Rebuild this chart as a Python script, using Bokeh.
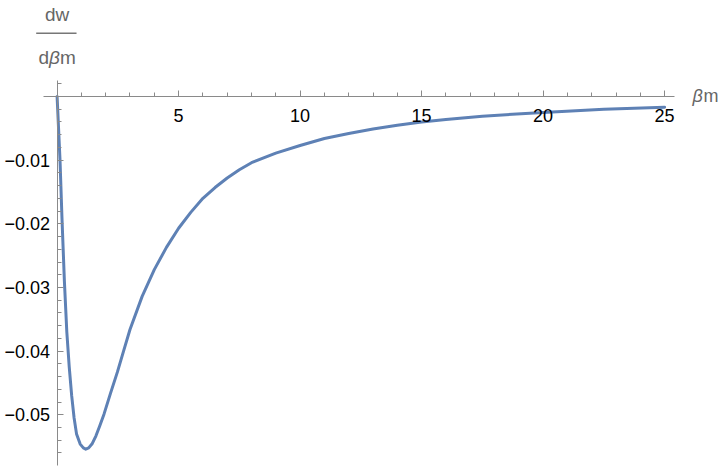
from bokeh.plotting import figure
from bokeh.models import Range1d, FixedTicker, Label, Arrow
from bokeh.embed import file_html
from bokeh.resources import INLINE

# curve values
beta_m = [0.0, 0.06, 0.12, 0.2, 0.3, 0.4, 0.5, 0.6, 0.7, 0.8,
          0.95, 1.08, 1.18, 1.3, 1.45, 1.6, 1.75, 1.93, 2.2, 2.48,
          2.75, 3.0, 3.5, 4.0, 4.5, 5.0, 5.5, 6.0, 6.5, 7.0,
          7.5, 8.0, 9.0, 10.0, 11.0, 12.0, 13.0, 14.0, 15.0, 16.0,
          17.5, 20.0, 22.5, 25.0]
dw = [0.0, -0.005, -0.010, -0.019, -0.029, -0.037, -0.0425, -0.047, -0.0505, -0.053,
      -0.0546, -0.0552, -0.0554, -0.0552, -0.0545, -0.0533, -0.0518, -0.0499, -0.0466, -0.0433,
      -0.0398, -0.0366, -0.0314, -0.0272, -0.0237, -0.0207, -0.0182, -0.0160, -0.0143, -0.0128,
      -0.0115, -0.0104, -0.0089, -0.0077, -0.0066, -0.0058, -0.0051, -0.0045, -0.0040, -0.0036,
      -0.0031, -0.0025, -0.0020, -0.0017]

x_major = [5, 10, 15, 20, 25]
x_minor = [1, 2, 3, 4, 6, 7, 8, 9, 11, 12, 13, 14, 16, 17, 18, 19, 21, 22, 23, 24]
y_major = [-0.05, -0.04, -0.03, -0.02, -0.01]
y_labels = ["\u22120.05", "\u22120.04", "\u22120.03", "\u22120.02", "\u22120.01"]
y_minor = [-0.056, -0.054, -0.052, -0.048, -0.046, -0.044, -0.042, -0.038, -0.036,
           -0.034, -0.032, -0.028, -0.026, -0.024, -0.022, -0.018, -0.016, -0.014,
           -0.012, -0.008, -0.006, -0.004, -0.002, 0.002]

FONT = "Liberation Sans"
AXIS_COLOR = "#8a8a8a"
LABEL_GRAY = "#666666"

p = figure(width=720, height=470, output_backend="svg", toolbar_location=None,
           x_range=Range1d(-2.329, 27.300), y_range=Range1d(-0.05875, 0.01508),
           min_border_left=0, min_border_right=0, min_border_top=0, min_border_bottom=0)
p.outline_line_color = None
p.xgrid.visible = False
p.ygrid.visible = False
p.background_fill_color = "white"
p.border_fill_color = "white"

p.line(beta_m, dw, line_color="#5E81B5", line_width=3, line_join="round", line_cap="round")

for ax in (p.xaxis[0], p.yaxis[0]):
    ax.fixed_location = 0
    ax.axis_line_color = AXIS_COLOR
    ax.major_tick_line_color = AXIS_COLOR
    ax.minor_tick_line_color = AXIS_COLOR
    ax.major_tick_in = 6
    ax.major_tick_out = 0
    ax.minor_tick_in = 4
    ax.minor_tick_out = 0
    ax.major_label_text_font = FONT
    ax.major_label_text_font_size = "18px"
    ax.major_label_text_color = "black"

p.xaxis[0].bounds = (-0.56, 25.41)
p.xaxis[0].ticker = FixedTicker(ticks=x_major, minor_ticks=x_minor)
p.xaxis[0].major_label_standoff = 13
p.yaxis[0].bounds = (-0.05797, 0.00251)
p.yaxis[0].ticker = FixedTicker(ticks=y_major, minor_ticks=y_minor)
p.yaxis[0].major_label_standoff = 7
p.yaxis[0].major_label_overrides = {v: s for v, s in zip(y_major, y_labels)}

# axis labels (Mathematica style): dw / dβm above the vertical axis, βm at the end of the horizontal one
def text(x, y, s, size, style="normal", align="left"):
    p.add_layout(Label(x=x, y=y, text=s, text_align=align, text_baseline="alphabetic",
                       text_font=FONT, text_font_size=size, text_font_style=style,
                       text_color=LABEL_GRAY))

text(0.0, 0.01285, "dw", "19px", align="center")
p.add_layout(Arrow(end=None, x_start=-0.86, y_start=0.00993, x_end=0.80, y_end=0.00993,
                   line_color="#777777", line_width=1.6))
text(-0.77, 0.00613, "d", "19px")
text(-0.335, 0.00613, "\u03b2", "19px", style="italic")
text(0.115, 0.00613, "m", "19px")
text(26.15, 0.00012, "\u03b2", "18px", style="italic")
text(26.60, 0.00012, "m", "18px")

open("out.html", "w").write(file_html(p, INLINE))
